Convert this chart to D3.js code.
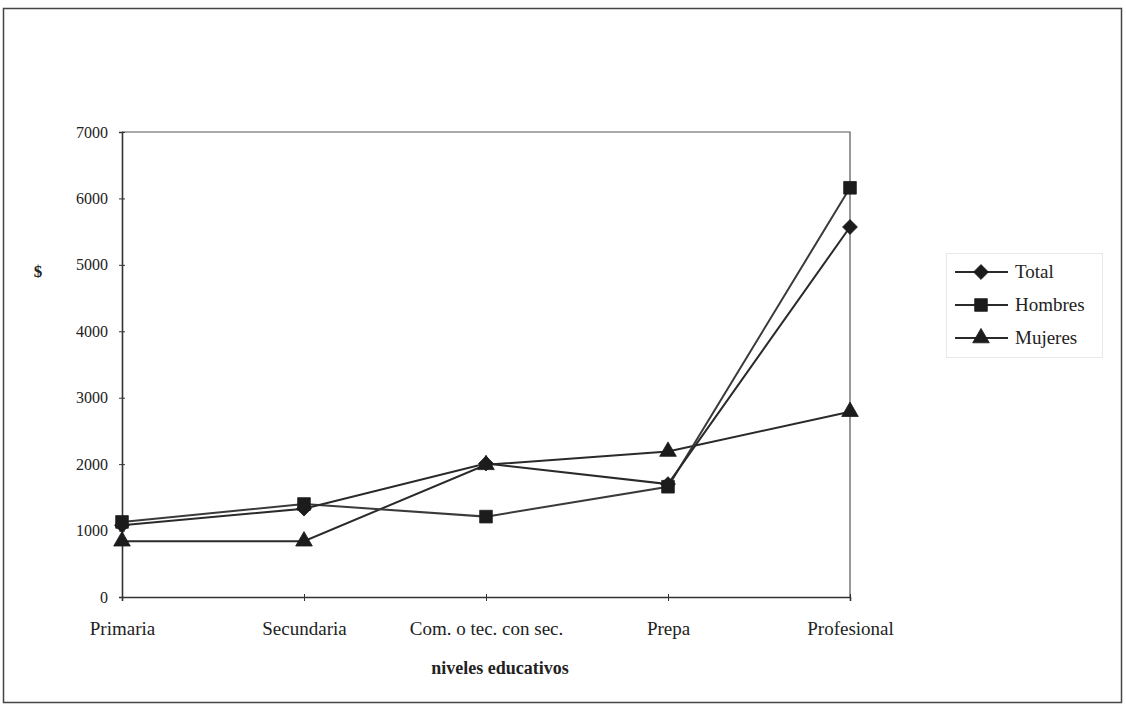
<!DOCTYPE html>
<html>
<head>
<meta charset="utf-8">
<script src="https://cdn.jsdelivr.net/npm/d3@7"></script>
<style>
  html, body { margin: 0; padding: 0; background: #fff; }
  svg { display: block; }
  text { font-family: "Liberation Serif", "Times New Roman", serif; fill: #222; }
</style>
</head>
<body>
<svg id="chart" width="1126" height="711"></svg>
<script>
// Education levels along the x axis
const categories = ["Primaria", "Secundaria", "Com. o tec. con sec.", "Prepa", "Profesional"];

// Average income by education level
const totalValues   = [1080, 1330, 2010, 1700, 5570];
const hombresValues = [1130, 1400, 1210, 1660, 6160];
const mujeresValues = [840, 840, 1990, 2190, 2790];

const yTicks = [0, 1000, 2000, 3000, 4000, 5000, 6000, 7000];

const seriesNames = ["Total", "Hombres", "Mujeres"];

// Diamond is drawn as a square turned 45 degrees
const series = [
  { name: seriesNames[0], values: totalValues,   symbol: d3.symbolSquare,   size: 110, rotate: 45 },
  { name: seriesNames[1], values: hombresValues, symbol: d3.symbolSquare,   size: 160, rotate: 0 },
  { name: seriesNames[2], values: mujeresValues, symbol: d3.symbolTriangle, size: 120, rotate: 0 }
];

const svg = d3.select("#chart");

// Outer frame
svg.append("rect")
  .attr("x", 3.5).attr("y", 8.5)
  .attr("width", 1118).attr("height", 694)
  .attr("fill", "none").attr("stroke", "#444").attr("stroke-width", 1.5);

const plot = { left: 122, right: 850, top: 132, bottom: 597 };

const x = d3.scalePoint()
  .domain(categories)
  .range([plot.left, plot.right])
  .padding(0);

const y = d3.scaleLinear()
  .domain([0, 7000])
  .range([plot.bottom, plot.top]);

// Plot area border (top and right)
svg.append("path")
  .attr("d", `M${plot.left},${plot.top}H${plot.right}V${plot.bottom}`)
  .attr("fill", "none").attr("stroke", "#555").attr("stroke-width", 1.2);

const serif = "'Liberation Serif', 'Times New Roman', serif";

// Y axis
const yAxis = d3.axisLeft(y).tickValues(yTicks).tickSize(3).tickPadding(11).tickFormat(d3.format("d"));
const gy = svg.append("g").attr("transform", `translate(${plot.left},0)`).call(yAxis)
  .attr("font-family", serif).attr("font-size", 16);
gy.select(".domain").attr("stroke", "#333").attr("stroke-width", 1.6);
gy.selectAll(".tick line").attr("stroke", "#333").attr("x2", -3).attr("x1", 3);
gy.selectAll(".tick text").attr("fill", "#222");

// X axis
const xAxis = d3.axisBottom(x).tickSize(4).tickPadding(21);
const gx = svg.append("g").attr("transform", `translate(0,${plot.bottom})`).call(xAxis)
  .attr("font-family", serif).attr("font-size", 19);
gx.select(".domain").attr("stroke", "#333").attr("stroke-width", 1.6);
gx.selectAll(".tick line").attr("stroke", "#333").attr("y1", -3).attr("y2", 4);
gx.selectAll(".tick text").attr("fill", "#222");

// Axis titles
svg.append("text")
  .attr("x", 500).attr("y", 674)
  .attr("text-anchor", "middle")
  .style("font-size", "18px").style("font-weight", "bold")
  .text("niveles educativos");

svg.append("text")
  .attr("x", 38).attr("y", 277)
  .attr("text-anchor", "middle")
  .style("font-size", "17px").style("font-weight", "bold")
  .text("$");

// Lines and markers
const line = d3.line()
  .x((d, i) => x(categories[i]))
  .y(d => y(d));

const drawOrder = [2, 1, 0];
drawOrder.forEach(si => {
  const s = series[si];
  svg.append("path")
    .datum(s.values)
    .attr("d", line)
    .attr("fill", "none")
    .attr("stroke", si === 1 ? "#3a3a3a" : "#2a2a2a")
    .attr("stroke-width", 2);
});
drawOrder.forEach(si => {
  const s = series[si];
  const sym = d3.symbol().type(s.symbol).size(s.size);
  svg.append("g").selectAll("path")
    .data(s.values)
    .join("path")
    .attr("d", sym)
    .attr("transform", (d, i) => `translate(${x(categories[i])},${y(d)}) rotate(${s.rotate})`)
    .attr("fill", "#1c1c1c")
    .attr("stroke", "#1c1c1c")
    .attr("stroke-width", 0.8);
});

// Legend
const legend = svg.append("g").attr("transform", "translate(946,253)");
legend.append("rect")
  .attr("x", 0.5).attr("y", 0.5)
  .attr("width", 156).attr("height", 104)
  .attr("fill", "none").attr("stroke", "#e8e8e8").attr("stroke-width", 1);

series.forEach((s, i) => {
  const row = legend.append("g").attr("transform", `translate(0,${19 + i * 33})`);
  row.append("line")
    .attr("x1", 9).attr("x2", 62).attr("y1", 0).attr("y2", 0)
    .attr("stroke", "#2a2a2a").attr("stroke-width", 2);
  row.append("path")
    .attr("d", d3.symbol().type(s.symbol).size(s.size)())
    .attr("transform", `translate(35,0) rotate(${s.rotate})`)
    .attr("fill", "#1c1c1c").attr("stroke", "#1c1c1c").attr("stroke-width", 0.8);
  row.append("text")
    .attr("x", 69).attr("y", 6)
    .style("font-size", "19px")
    .text(s.name);
});
</script>
</body>
</html>
